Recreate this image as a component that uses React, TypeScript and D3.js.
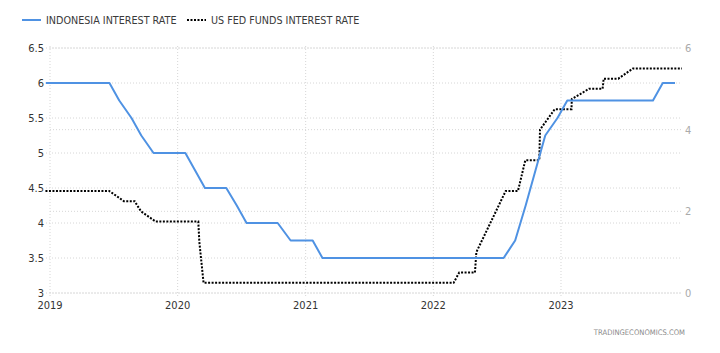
import React from 'react';
import * as d3 from 'd3';

// Bank Indonesia policy rate, at BI board meeting dates
const indoDates = [
  '2018-12-20', '2019-01-17', '2019-02-21', '2019-03-21', '2019-04-25', '2019-05-16', '2019-06-20',
  '2019-07-18', '2019-08-22', '2019-09-19', '2019-10-24', '2019-11-21', '2019-12-19',
  '2020-01-23', '2020-02-20', '2020-03-19', '2020-04-14', '2020-05-19', '2020-06-18',
  '2020-07-16', '2020-08-19', '2020-09-17', '2020-10-13', '2020-11-19', '2020-12-17',
  '2021-01-21', '2021-02-18', '2021-03-18', '2021-04-20', '2021-05-25', '2021-06-17',
  '2021-07-22', '2021-08-19', '2021-09-21', '2021-10-19', '2021-11-18', '2021-12-16',
  '2022-01-20', '2022-02-10', '2022-03-17', '2022-04-19', '2022-05-24', '2022-06-23',
  '2022-07-21', '2022-08-23', '2022-09-22', '2022-10-20', '2022-11-17', '2022-12-22',
  '2023-01-19', '2023-02-16', '2023-03-16', '2023-04-18', '2023-05-25', '2023-06-22',
  '2023-07-25', '2023-08-24', '2023-09-21', '2023-10-19', '2023-11-23',
];
const indoRates = [
  6.0, 6.0, 6.0, 6.0, 6.0, 6.0, 6.0,
  5.75, 5.5, 5.25, 5.0, 5.0, 5.0,
  5.0, 4.75, 4.5, 4.5, 4.5, 4.25,
  4.0, 4.0, 4.0, 4.0, 3.75, 3.75,
  3.75, 3.5, 3.5, 3.5, 3.5, 3.5,
  3.5, 3.5, 3.5, 3.5, 3.5, 3.5,
  3.5, 3.5, 3.5, 3.5, 3.5, 3.5,
  3.5, 3.75, 4.25, 4.75, 5.25, 5.5,
  5.75, 5.75, 5.75, 5.75, 5.75, 5.75,
  5.75, 5.75, 5.75, 6.0, 6.0,
];

// US fed funds target (upper bound)
const fedDates = [
  '2018-12-19', '2019-01-30', '2019-03-20', '2019-05-01', '2019-06-19', '2019-07-31', '2019-08-31',
  '2019-09-18', '2019-10-30', '2019-12-11', '2020-01-29', '2020-02-29', '2020-03-03', '2020-03-15',
  '2020-04-29', '2020-06-10', '2020-07-29', '2020-09-16', '2020-11-05', '2020-12-16',
  '2021-01-27', '2021-03-17', '2021-04-28', '2021-06-16', '2021-07-28', '2021-09-22',
  '2021-11-03', '2021-12-15', '2022-01-26', '2022-02-28', '2022-03-16', '2022-04-30',
  '2022-05-04', '2022-06-15', '2022-07-27', '2022-08-31', '2022-09-21', '2022-10-31',
  '2022-11-02', '2022-12-14', '2023-01-31', '2023-02-01', '2023-03-22', '2023-04-30',
  '2023-05-03', '2023-06-14', '2023-07-26', '2023-09-20', '2023-11-01', '2023-12-13',
];
const fedRates = [
  2.5, 2.5, 2.5, 2.5, 2.5, 2.25, 2.25,
  2.0, 1.75, 1.75, 1.75, 1.75, 1.25, 0.25,
  0.25, 0.25, 0.25, 0.25, 0.25, 0.25,
  0.25, 0.25, 0.25, 0.25, 0.25, 0.25,
  0.25, 0.25, 0.25, 0.25, 0.5, 0.5,
  1.0, 1.75, 2.5, 2.5, 3.25, 3.25,
  4.0, 4.5, 4.5, 4.75, 5.0, 5.0,
  5.25, 5.25, 5.5, 5.5, 5.5, 5.5,
];

const yearTicks = ['2019', '2020', '2021', '2022', '2023'];
const leftTicks = [3, 3.5, 4, 4.5, 5, 5.5, 6, 6.5];
const rightTicks = [0, 2, 4, 6];

const parse = d3.timeParse('%Y-%m-%d');
const FONT = "'Liberation Sans Narrow', 'DejaVu Sans Condensed', sans-serif";

export default function App() {
  const width = 720;
  const height = 353;
  const plot = { left: 50, right: 682, top: 48, bottom: 293 };

  const x = d3.scaleTime()
    .domain([parse('2019-01-01'), parse('2023-12-13')])
    .range([plot.left, plot.right]);
  const yL = d3.scaleLinear().domain([3, 6.5]).range([plot.bottom, plot.top]);
  const yR = d3.scaleLinear().domain([0, 6]).range([plot.bottom, plot.top]);

  const indo = indoDates.map((d, i) => ({ date: parse(d), v: indoRates[i] }));
  const fed = fedDates.map((d, i) => ({ date: parse(d), v: fedRates[i] }));

  const indoLine = d3.line<any>().x(d => x(d.date)).y(d => yL(d.v));
  const fedLine = d3.line<any>().x(d => x(d.date)).y(d => yR(d.v));

  return (
    <svg width={width} height={height} style={{ position: 'absolute', left: 0, top: 0, background: '#fff' }}
      fontFamily={FONT}>
      {/* legend */}
      <line x1={22} x2={41} y1={20} y2={20} stroke="#4f92e3" strokeWidth={2} />
      <text x={46} y={20} dy="0.35em" fontSize={10.7} fill="#3a3a3a">INDONESIA INTEREST RATE</text>
      <line x1={187} x2={206} y1={20} y2={20} stroke="#000" strokeWidth={2} strokeDasharray="2,1.5" />
      <text x={211} y={20} dy="0.35em" fontSize={10.7} fill="#3a3a3a">US FED FUNDS INTEREST RATE</text>

      {/* vertical grid */}
      {yearTicks.map(t => (
        <line key={t} x1={x(parse(t + '-01-01'))} x2={x(parse(t + '-01-01'))} y1={plot.top - 2} y2={plot.bottom + 4}
          stroke="#d6d6d6" strokeDasharray="1,2" />
      ))}
      {/* horizontal grid, left axis */}
      {leftTicks.map(t => (
        <line key={'l' + t} x1={plot.left - 4} x2={plot.right} y1={yL(t)} y2={yL(t)}
          stroke="#d6d6d6" strokeDasharray="1,2" />
      ))}
      {/* horizontal grid, right axis */}
      {rightTicks.map(t => (
        <line key={'r' + t} x1={plot.left} x2={plot.right} y1={yR(t)} y2={yR(t)}
          stroke="#d6d6d6" strokeDasharray="1,2" />
      ))}

      {/* series */}
      <path d={fedLine(fed) || ''} fill="none" stroke="#000" strokeWidth={2} strokeDasharray="2,1.5" />
      <path d={indoLine(indo) || ''} fill="none" stroke="#4f92e3" strokeWidth={2} strokeLinejoin="round" />

      {/* left labels */}
      {leftTicks.map(t => (
        <text key={'lt' + t} x={44} y={yL(t)} dy="0.35em" textAnchor="end" fontSize={11} fill="#333">
          {String(t)}
        </text>
      ))}
      {/* right labels */}
      {rightTicks.map(t => (
        <text key={'rt' + t} x={685} y={yR(t)} dy="0.35em" textAnchor="start" fontSize={11} fill="#aaa">
          {String(t)}
        </text>
      ))}
      {/* x labels */}
      {yearTicks.map(t => (
        <text key={'x' + t} x={x(parse(t + '-01-01'))} y={305} dy="0.35em" textAnchor="middle" fontSize={11} fill="#333">
          {t}
        </text>
      ))}

      <text x={685} y={332} dy="0.35em" textAnchor="end" fontSize={7.6} fill="#8a8a8a">TRADINGECONOMICS.COM</text>
    </svg>
  );
}
